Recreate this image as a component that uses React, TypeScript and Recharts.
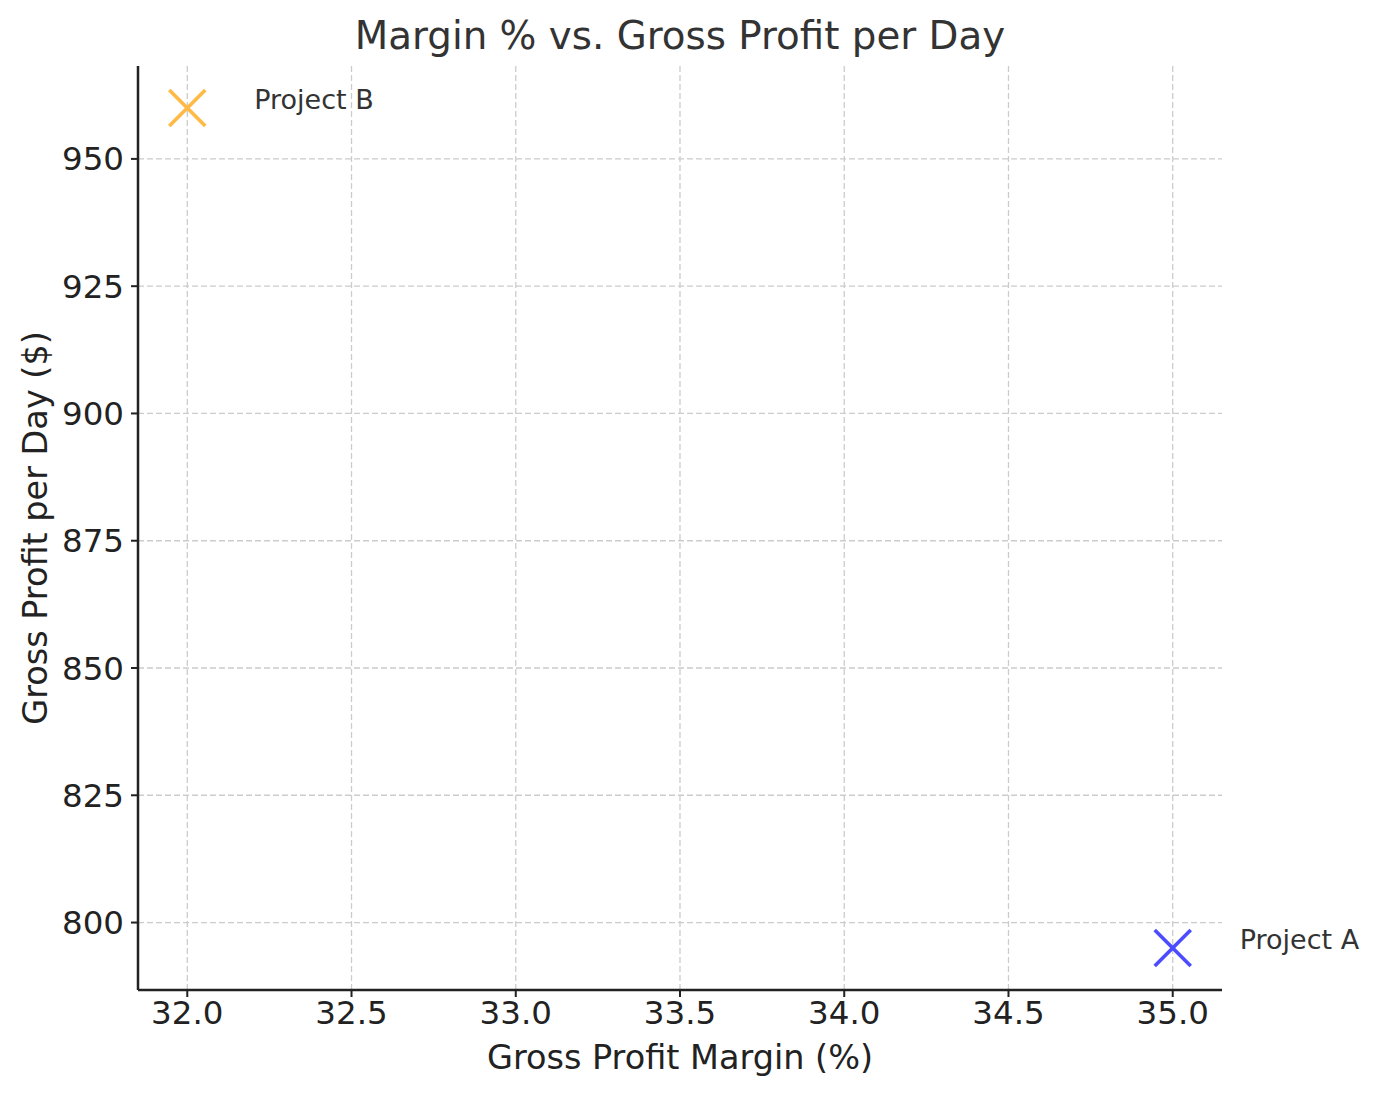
import { CartesianGrid, Label, Scatter, ScatterChart, XAxis, YAxis } from "recharts";

// data
const projectNames = ["Project A", "Project B"];
const grossMargin = [35.0, 32.0]; // %
const profitPerDay = [795, 960]; // $
const markerColors = ["#4C4CFF", "#FFBA45"];

const xTicks = [32.0, 32.5, 33.0, 33.5, 34.0, 34.5, 35.0];
const yTicks = [800, 825, 850, 875, 900, 925, 950];

const FONT = "'DejaVu Sans', sans-serif";
const W = 1381;
const H = 1097;

// x marker plus the name written next to it
const CrossShape = (props: any) => {
  const { cx, cy, payload, fill } = props;
  if (cx == null || cy == null) return null;
  const r = 18;
  return (
    <g>
      <line x1={cx - r} y1={cy - r} x2={cx + r} y2={cy + r} stroke={fill} strokeWidth={3.6} />
      <line x1={cx - r} y1={cy + r} x2={cx + r} y2={cy - r} stroke={fill} strokeWidth={3.6} />
      <text x={cx + 67} y={cy + 1} fontSize={27} fontFamily={FONT} fill="#333">
        {payload.name}
      </text>
    </g>
  );
};

const YTitle = (props: any) => {
  const vb = props.viewBox ?? {};
  const cy = vb.y != null ? vb.y + vb.height / 2 : 528;
  const x = 35;
  return (
    <text
      x={x}
      y={cy}
      transform={`rotate(-90 ${x} ${cy})`}
      textAnchor="middle"
      dominantBaseline="central"
      fontSize={33.5}
      fontFamily={FONT}
      fill="#222"
    >
      Gross Profit per Day ($)
    </text>
  );
};

export default function App() {
  const series = projectNames.map((name, i) => ({
    name,
    margin: grossMargin[i],
    profit: profitPerDay[i],
    color: markerColors[i],
  }));

  return (
    <div style={{ position: "absolute", left: 0, top: 0, width: W, height: H, background: "#fff" }}>
      <ScatterChart width={W} height={H} margin={{ top: 66, right: 159, bottom: 52, left: 58 }}>
        <CartesianGrid stroke="#cccccc" strokeWidth={1.3} strokeDasharray="6 3" syncWithTicks />
        <XAxis
          dataKey="margin"
          type="number"
          domain={[31.85, 35.15]}
          ticks={xTicks}
          tickFormatter={(v: number) => v.toFixed(1)}
          height={55}
          tickSize={7}
          tickMargin={4}
          axisLine={{ stroke: "#222", strokeWidth: 2.5 }}
          tickLine={{ stroke: "#222", strokeWidth: 2 }}
          tick={{ fill: "#222", fontSize: 32.5, fontFamily: FONT }}
        >
          <Label
            value="Gross Profit Margin (%)"
            position="bottom"
            offset={0}
            fill="#222"
            fontSize={33.5}
            fontFamily={FONT}
          />
        </XAxis>
        <YAxis
          dataKey="profit"
          type="number"
          domain={[786.75, 968.25]}
          ticks={yTicks}
          width={80}
          tickSize={7}
          tickMargin={7}
          axisLine={{ stroke: "#222", strokeWidth: 2.5 }}
          tickLine={{ stroke: "#222", strokeWidth: 2 }}
          tick={{ fill: "#222", fontSize: 32.5, fontFamily: FONT }}
        >
          <Label content={<YTitle />} />
        </YAxis>
        {series.map((s) => (
          <Scatter
            key={s.name}
            data={[s]}
            fill={s.color}
            shape={<CrossShape />}
            isAnimationActive={false}
          />
        ))}
        <text
          x={680}
          y={49}
          textAnchor="middle"
          fontSize={38.8}
          fontFamily={FONT}
          fill="#333"
        >
          Margin % vs. Gross Profit per Day
        </text>
      </ScatterChart>
    </div>
  );
}
